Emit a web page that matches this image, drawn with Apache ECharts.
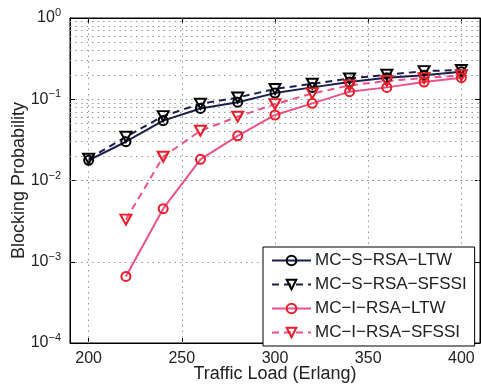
<!DOCTYPE html>
<html>
<head>
<meta charset="utf-8">
<script src="https://cdn.jsdelivr.net/npm/echarts@6/dist/echarts.min.js"></script>
<style>
  html, body { margin: 0; padding: 0; background: #fff; }
  #chart { width: 481px; height: 387px; }
</style>
</head>
<body>
<div id="chart"></div>
<script>
const loads = [200, 220, 240, 260, 280, 300, 320, 340, 360, 380, 400];
const xTicks = [200, 250, 300, 350, 400];
const sLtw = [0.0177, 0.030, 0.0545, 0.077, 0.092, 0.119, 0.14, 0.163, 0.184, 0.198, 0.218];
const sSfssi = [0.0185, 0.0345, 0.062, 0.088, 0.105, 0.134, 0.155, 0.18, 0.2, 0.222, 0.229];
const iLtw = [null, 0.00066, 0.0045, 0.0182, 0.0355, 0.064, 0.089, 0.124, 0.14, 0.163, 0.184];
const iSfssi = [null, 0.0033, 0.0196, 0.041, 0.061, 0.087, 0.118, 0.148, 0.168, 0.182, 0.197];

const NAVY = '#1c1e4e';
const PINK = '#f0508a';
const RED = '#ec1c28';
const FONT = '"Liberation Sans", Arial, sans-serif';

// log minor grid positions 2..9 x 10^k
const minorY = [];
for (let k = -4; k < 0; k++) {
  for (let m = 2; m <= 9; m++) minorY.push(m * Math.pow(10, k));
}
const gridStyle = { color: '#999', type: [1.5, 4], width: 1 };

const pair = (arr) => loads.map((x, i) => [x, arr[i]]);

const mkSeries = (name, data, lineColor, markColor, dashed, symbol) => ({
  name,
  type: 'line',
  data: pair(data),
  symbol: symbol === 'tri' ? 'triangle' : 'circle',
  symbolRotate: symbol === 'tri' ? 180 : 0,
  symbolSize: symbol === 'tri' ? [11, 10] : 9,
  showSymbol: true,
  connectNulls: false,
  z: 3,
  lineStyle: { color: lineColor, width: 2, type: dashed ? [7, 5] : 'solid' },
  itemStyle: { color: 'rgba(255,255,255,0)', borderColor: markColor, borderWidth: 2 },
  emphasis: { disabled: true },
});

const series = [
  mkSeries('MC\u2212S\u2212RSA\u2212LTW', sLtw, NAVY, '#000', false, 'circle'),
  mkSeries('MC\u2212S\u2212RSA\u2212SFSSI', sSfssi, NAVY, '#000', true, 'tri'),
  mkSeries('MC\u2212I\u2212RSA\u2212LTW', iLtw, PINK, RED, false, 'circle'),
  mkSeries('MC\u2212I\u2212RSA\u2212SFSSI', iSfssi, PINK, RED, true, 'tri'),
];
// dotted grid lines
series[0].markLine = {
  silent: true,
  symbol: 'none',
  z: 1,
  animation: false,
  label: { show: false },
  lineStyle: gridStyle,
  data: minorY.map(v => ({ yAxis: v })).concat(xTicks.map(v => ({ xAxis: v }))),
};

const expLabel = (v) => {
  const e = Math.round(Math.log10(v));
  return '{b|10}{e|' + (e < 0 ? '\u2212' + (-e) : e) + '}';
};

const option = {
  animation: false,
  textStyle: { fontFamily: FONT },
  grid: {
    left: 70, right: 1, top: 18, bottom: 44,
    outerBoundsMode: 'none',
    containLabel: false,
    show: true, borderColor: '#000', borderWidth: 1, backgroundColor: '#fff',
  },
  legend: {
    orient: 'vertical',
    left: 263, top: 247,
    padding: [5, 8, 5, 8],
    itemWidth: 39, itemHeight: 12, itemGap: 7,
    backgroundColor: '#fff',
    borderColor: '#000', borderWidth: 1,
    textStyle: { fontSize: 17, lineHeight: 14, color: '#222', fontFamily: FONT, padding: [0, 0, 0, -1] },
    data: series.map(s => s.name),
  },
  xAxis: [{
    type: 'value', min: 190, max: 410,
    name: 'Traffic Load (Erlang)', nameLocation: 'middle', nameGap: 22,
    nameMoveOverlap: false,
    nameTextStyle: { fontSize: 18, color: '#222' },
    axisLine: { show: true, lineStyle: { color: '#000' } },
    axisTick: { inside: true, length: 5, customValues: xTicks, lineStyle: { color: '#000' } },
    axisLabel: { customValues: xTicks, fontSize: 16, color: '#222', margin: 8 },
    splitLine: { show: false },
  }, {
    type: 'value', min: 190, max: 410, position: 'top',
    axisLine: { show: true, lineStyle: { color: '#000' } },
    axisTick: { inside: true, length: 5, customValues: xTicks, lineStyle: { color: '#000' } },
    axisLabel: { show: false },
    splitLine: { show: false },
  }],
  yAxis: [{
    type: 'log', logBase: 10, min: 1e-4, max: 1,
    name: 'Blocking Probability', nameLocation: 'middle', nameGap: 42,
    nameMoveOverlap: false,
    nameTextStyle: { fontSize: 18, color: '#222' },
    axisLine: { show: true, lineStyle: { color: '#000' } },
    axisTick: { inside: true, length: 5, lineStyle: { color: '#000' } },
    axisLabel: {
      margin: 9,
      formatter: expLabel,
      rich: {
        b: { fontSize: 16, color: '#222', fontFamily: FONT },
        e: { fontSize: 11, color: '#222', fontFamily: FONT, padding: [0, 0, 10, 0] },
      },
    },
    splitLine: { show: true, lineStyle: gridStyle },
  }, {
    type: 'log', logBase: 10, min: 1e-4, max: 1, position: 'right',
    axisLine: { show: true, lineStyle: { color: '#000' } },
    axisTick: { inside: true, length: 5, lineStyle: { color: '#000' } },
    axisLabel: { show: false },
    splitLine: { show: false },
  }],
  series,
};

const myChart = echarts.init(document.getElementById('chart'));
myChart.setOption(option);
window.addEventListener('resize', () => myChart.resize());
</script>
</body>
</html>
